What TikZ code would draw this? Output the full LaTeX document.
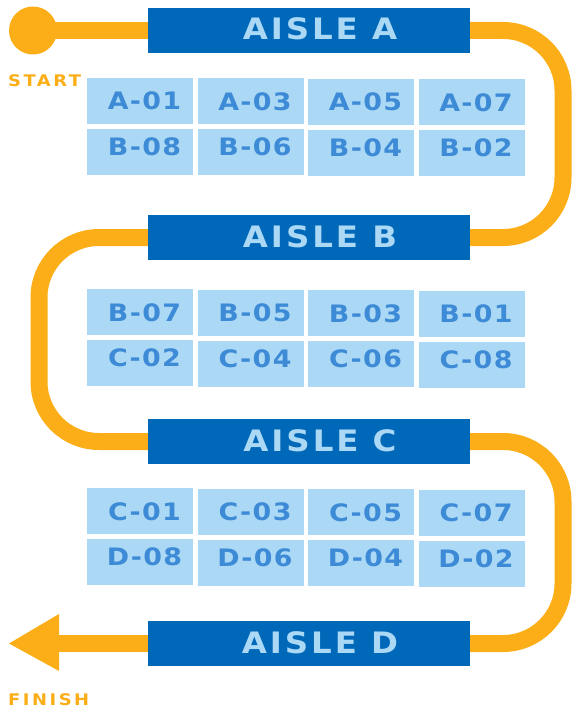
\documentclass[tikz,border=0pt]{standalone}
\usepackage{fontspec}
\usepackage{graphicx}
\setmainfont{DejaVu Sans}
\newfontfamily\cellfont[LetterSpace=5]{DejaVu Sans Bold}
\newfontfamily\aislefont[LetterSpace=9]{DejaVu Sans Bold}
\newfontfamily\endfont[LetterSpace=14]{DejaVu Sans Bold}
\definecolor{route}{HTML}{FBAE17}
\definecolor{barblue}{HTML}{0068B9}
\definecolor{bartext}{HTML}{AAD8F5}
\definecolor{cellbg}{HTML}{ABD9F5}
\definecolor{celltext}{HTML}{3D8AD6}
\newcommand{\wide}[1]{\scalebox{1.12}[1]{#1}}
\newcommand{\wider}[1]{\scalebox{1.1}[1]{#1}}
\tikzset{
  routeline/.style={draw=route, line width=17pt},
  aislebar/.style={fill=barblue, draw=none, minimum width=322pt, minimum height=45pt, inner sep=0pt},
  aislelabel/.style={text=bartext, font=\aislefont\fontsize{29.5}{30}\selectfont, inner sep=0pt, anchor=base},
  cellbox/.style={fill=cellbg, draw=none, minimum width=106pt, minimum height=46pt, inner sep=0pt},
  celllabel/.style={text=celltext, font=\cellfont\fontsize{24}{25}\selectfont, inner sep=0pt, anchor=base},
  endlabel/.style={text=route, font=\endfont\fontsize{16}{17}\selectfont, inner sep=0pt, anchor=base west},
}
\begin{document}
\begin{tikzpicture}[x=1pt,y=-1pt]
\path[use as bounding box] (0,0) rectangle (577,709);

% start marker
\node[circle, fill=route, minimum size=48pt, inner sep=0pt] (start) at (33,30.5) {};

% bars
\node[aislebar] (aA) at (309,30.5) {};
\node[aislebar] (aB) at (309,237.5) {};
\node[aislebar] (aC) at (309,441.5) {};
\node[aislebar] (aD) at (309,643.5) {};

% finish arrow points
\coordinate (fin) at (59,643.5);
\coordinate (tip) at (9,643.5);
\coordinate (finup) at (59,614);
\coordinate (findown) at (59,671);

% route
\draw[routeline] (start.center) -- (aA.west);
\draw[routeline] (aA.east) -- (503,30.5) arc[start angle=90,end angle=0,radius=60pt]
   -- (563,177.5) arc[start angle=0,end angle=-90,radius=60pt] -- (aB.east);
\draw[routeline] (aB.west) -- (99,237.5) arc[start angle=90,end angle=180,radius=60pt]
   -- (39,381.5) arc[start angle=180,end angle=270,radius=60pt] -- (aC.west);
\draw[routeline] (aC.east) -- (503,441.5) arc[start angle=90,end angle=0,radius=60pt]
   -- (563,583.5) arc[start angle=0,end angle=-90,radius=60pt] -- (aD.east);
\draw[routeline] (aD.west) -- (fin);
\fill[route] (tip) -- (finup) -- (findown) -- cycle;

% bars on top of the route ends
\foreach \y in {30.5,237.5,441.5,643.5}{
  \fill[barblue] (148,\y-22.5) rectangle (470,\y+22.5);
}

% aisle labels
\node[aislelabel] (tA) at (320,40) {\wider{AISLE A}};
\node[aislelabel] (tB) at (320,247) {\wider{AISLE B}};
\node[aislelabel] (tC) at (320,451) {\wider{AISLE C}};
\node[aislelabel] (tD) at (320,653) {\wider{AISLE D}};

% start / finish labels
\node[endlabel] (lstart) at (8,86.7) {\wide{START}};
\node[endlabel] (lfinish) at (8,705) {\wide{FINISH}};

% cells: group A
\foreach \c/\x/\dy/\ta/\tb in {1/140/0/A-01/B-08, 2/250.5/0.5/A-03/B-06, 3/361/1/A-05/B-04, 4/471.5/1.5/A-07/B-02}{
  \node[cellbox] (cA\c a) at (\x,100.5+\dy) {};
  \node[cellbox] (cA\c b) at (\x,151.5+\dy) {};
  \node[celllabel] (tA\c a) at (\x+4.5,109.8+\dy) {\wide{\ta}};
  \node[celllabel] (tA\c b) at (\x+4.5,155.3+\dy) {\wide{\tb}};
}
% group B
\foreach \c/\x/\dy/\ta/\tb in {1/140/0/B-07/C-02, 2/250.5/0.5/B-05/C-04, 3/361/1/B-03/C-06, 4/471.5/1.5/B-01/C-08}{
  \node[cellbox] (cB\c a) at (\x,312+\dy) {};
  \node[cellbox] (cB\c b) at (\x,363+\dy) {};
  \node[celllabel] (tB\c a) at (\x+4.5,321.3+\dy) {\wide{\ta}};
  \node[celllabel] (tB\c b) at (\x+4.5,366.8+\dy) {\wide{\tb}};
}
% group C
\foreach \c/\x/\dy/\ta/\tb in {1/140/0/C-01/D-08, 2/250.5/0.5/C-03/D-06, 3/361/1/C-05/D-04, 4/471.5/1.5/C-07/D-02}{
  \node[cellbox] (cC\c a) at (\x,511+\dy) {};
  \node[cellbox] (cC\c b) at (\x,562+\dy) {};
  \node[celllabel] (tC\c a) at (\x+4.5,520.3+\dy) {\wide{\ta}};
  \node[celllabel] (tC\c b) at (\x+4.5,565.8+\dy) {\wide{\tb}};
}
\end{tikzpicture}
\end{document}
